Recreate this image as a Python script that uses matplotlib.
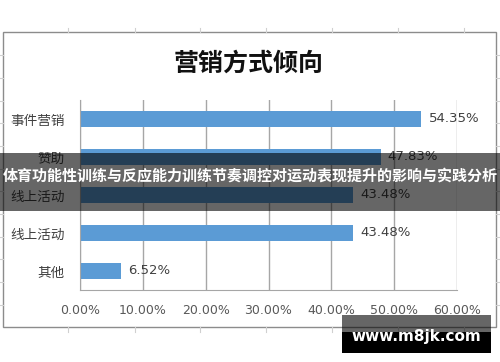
import matplotlib
matplotlib.use("Agg")
import matplotlib.pyplot as plt
from matplotlib.patches import Rectangle
from matplotlib.ticker import FuncFormatter, MultipleLocator

plt.rcParams['font.family'] = ['Noto Sans CJK SC', 'DejaVu Sans']

title = "营销方式倾向"
categories = ["事件营销", "赞助", "线上活动", "线上活动", "其他"]
values = [54.35, 47.83, 43.48, 43.48, 6.52]
xticks = [0, 10, 20, 30, 40, 50, 60]
banner_text = "体育功能性训练与反应能力训练节奏调控对运动表现提升的影响与实践分析"
watermark = "www.m8jk.com"

W, H = 500, 362
fig = plt.figure(figsize=(W / 100, H / 100), dpi=100)

# background (spreadsheet + chart frame)
bg = fig.add_axes([0, 0, 1, 1], zorder=0)
bg.set_xlim(0, W)
bg.set_ylim(H, 0)
bg.axis('off')
for x in [68, 135, 200, 266, 332, 398, 464]:
    bg.plot([x, x], [27.5, 31.5], color='#d0d0d0', lw=0.8)
    bg.plot([x, x], [327, 332], color='#d0d0d0', lw=0.8)
for y in [55, 78, 100.5, 123, 146, 168.5, 191, 214, 236.5, 259, 282, 304.5]:
    bg.plot([0, 3], [y, y], color='#d0d0d0', lw=0.8)
    bg.plot([496, 500], [y, y], color='#d0d0d0', lw=0.8)
bg.add_patch(Rectangle((3, 31.5), 493, 295.5, facecolor='white',
                       edgecolor='#8c8c8c', lw=1.0))

fig.text(0.497, 1 - 64 / H, title, ha='center', va='center',
         fontsize=18, fontweight='bold', color='#111111')

# main chart
ax = fig.add_axes([80 / W, 1 - 290 / H, (457 - 80) / W, 190 / H], zorder=1)
ax.patch.set_alpha(0)
pos = list(range(len(categories)))
ax.barh(pos, values, height=0.42, color='#5B9BD5', zorder=2)
ax.set_ylim(len(categories) - 0.5, -0.5)
ax.set_xlim(0, 60)
ax.set_yticks(pos)
ax.set_yticklabels(categories, fontsize=9.8, color='#404040')
ax.set_xticks(xticks)
ax.xaxis.set_major_formatter(FuncFormatter(lambda v, p: f"{v:.2f}%"))
for lab in ax.get_xticklabels():
    lab.set_family('DejaVu Sans')
ax.tick_params(axis='x', length=0, pad=10, labelsize=9, labelcolor='#595959')
ax.tick_params(axis='y', length=0, pad=11)
ax.grid(axis='x', color='#a6a6a6', lw=1.0, zorder=0)
ax.set_axisbelow(True)
for s in ['top', 'right']:
    ax.spines[s].set_visible(False)
ax.spines['left'].set_color('#a6a6a6')
ax.spines['bottom'].set_color('#a6a6a6')
for p, v in zip(pos, values):
    ax.annotate(f"{v:.2f}%", (v, p), xytext=(5, 0), textcoords='offset points',
                ha='left', va='center', fontsize=9.5, color='#404040',
                family='DejaVu Sans')

# overlays
ov = fig.add_axes([0, 0, 1, 1], zorder=5)
ov.set_xlim(0, W)
ov.set_ylim(H, 0)
ov.axis('off')
ov.patch.set_alpha(0)
ov.add_patch(Rectangle((0, 153), W, 57.5, facecolor='black', alpha=0.6, lw=0))
ov.text(250, 176, banner_text, ha='center', va='center', color='white',
        fontsize=10.8, fontweight='bold')
ov.add_patch(Rectangle((342, 315), 149, 17, facecolor='black', alpha=0.6, lw=0))
ov.add_patch(Rectangle((342, 332), 149, 21, facecolor='black', lw=0))
ov.text(416, 337, watermark, ha='center', va='center', color='white',
        fontsize=11, fontweight='bold', family='DejaVu Sans')

fig.savefig('out.png', dpi=100)
